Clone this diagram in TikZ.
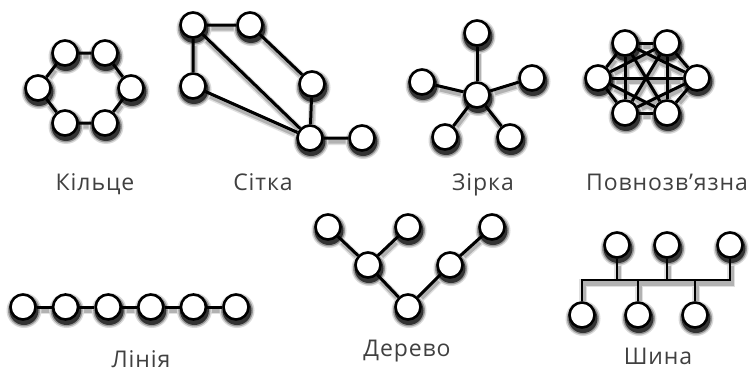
\documentclass[tikz,border=0pt]{standalone}
\usepackage{fontspec}
\newfontfamily\lblfont[LetterSpace=4]{Open Sans}
\usetikzlibrary{backgrounds}
\newcommand\netlinks{%
	\draw[link] (k1)--(k2)--(k3)--(k4)--(k5)--(k6)--(k1);
	\draw[link] (s1)--(s2)--(s4)--(s5)--(s6) (s1)--(s3)--(s5) (s1)--(s5);
	\foreach \i in {1,...,5} \draw[link] (z0)--(z\i);
	\foreach \i in {1,...,5} {
		\pgfmathtruncatemacro\nxt{\i+1}
		\foreach \j in {\nxt,...,6} \draw[link] (p\i)--(p\j);
	}
	\draw[link] (l1)--(l2)--(l3)--(l4)--(l5)--(l6);
	\draw[link] (d1)--(d3)--(d4)--(d5)--(d6) (d2)--(d3);
	\draw[link, bus] (v1)--(busL)--(busR)--(u3);
	\draw[link, bus] (u1)--(u1 |- busL) (u2)--(u2 |- busL) (v2)--(v2 |- busL) (v3)--(v3 |- busL);
}
\begin{document}
\begin{tikzpicture}[x=1pt, y=-1pt, line join=round, line cap=round,
	nut/.style={circle, draw=black, line width=2.6pt, fill=white, minimum size=25pt, inner sep=0pt},
	link/.style={line width=3pt},
	bus/.style={line width=2.4pt},
	ten/.style={font=\lblfont\fontsize{23}{27}\selectfont, text=black!75, anchor=base}]
	\useasboundingbox (0,0) rectangle (755,372);
	% Кільце
	\foreach \n/\p in {k1/{65,53}, k2/{105,53}, k3/{131,88}, k4/{105,123}, k5/{65,123}, k6/{38,88}}
		\node[nut] (\n) at (\p) {};
	% Сітка
	\foreach \n/\p in {s1/{193,25}, s2/{250,25}, s3/{193,86}, s4/{312,84}, s5/{310,138}, s6/{362,138}}
		\node[nut] (\n) at (\p) {};
	% Зірка
	\foreach \n/\p in {z0/{477,95}, z1/{477,33}, z2/{532,78}, z3/{510,137}, z4/{445,137}, z5/{422,82}}
		\node[nut] (\n) at (\p) {};
	% Повнозв'язна
	\foreach \n/\p in {p1/{625,43}, p2/{667,43}, p3/{697,78}, p4/{667,113}, p5/{625,113}, p6/{598,78}}
		\node[nut] (\n) at (\p) {};
	% Лінія
	\foreach \i in {1,...,6}
		\node[nut] (l\i) at ({23+42.6*(\i-1)},307) {};
	% Дерево
	\foreach \n/\p in {d1/{328,227}, d2/{408,227}, d3/{368,265}, d4/{408,307}, d5/{450,265}, d6/{492,227}}
		\node[nut] (\n) at (\p) {};
	% Шина
	\foreach \n/\p in {u1/{617,245}, u2/{667,245}, u3/{730,245}, v1/{582,315}, v2/{638,315}, v3/{695,315}}
		\node[nut] (\n) at (\p) {};
	\coordinate (busL) at (582,280);
	\coordinate (busR) at (730,280);

	\begin{scope}[on background layer]
		% тінь ліній
		\begin{scope}[transform canvas={shift={(1pt,-3pt)}}, link/.style={line width=8pt, black!12}, bus/.style={}]
			\netlinks
		\end{scope}
		\begin{scope}[transform canvas={shift={(1pt,-3pt)}}, link/.style={line width=5pt, black!30}, bus/.style={}]
			\netlinks
		\end{scope}
		% тінь вузлів
		\foreach \n in {k1,k2,k3,k4,k5,k6,s1,s2,s3,s4,s5,s6,z0,z1,z2,z3,z4,z5,p1,p2,p3,p4,p5,p6,
				l1,l2,l3,l4,l5,l6,d1,d2,d3,d4,d5,d6,u1,u2,u3,v1,v2,v3} {
			\fill[black!15] ([shift={(1,3.5)}]\n.center) circle (17.5);
			\fill[black!40] ([shift={(1,3.5)}]\n.center) circle (16);
			\fill[black!80] ([shift={(1,3.5)}]\n.center) circle (14.5);
		}
		\netlinks
	\end{scope}

	\node[ten] (tk) at (95,190) {Кільце};
	\node[ten] (ts) at (263,190) {Сітка};
	\node[ten] (tz) at (483,190) {Зірка};
	\node[ten] (tp) at (667,190) {Повнозв’язна};
	\node[ten] (tl) at (141,367) {Лінія};
	\node[ten] (td) at (407,356) {Дерево};
	\node[ten] (tb) at (658,364) {Шина};
\end{tikzpicture}
\end{document}
